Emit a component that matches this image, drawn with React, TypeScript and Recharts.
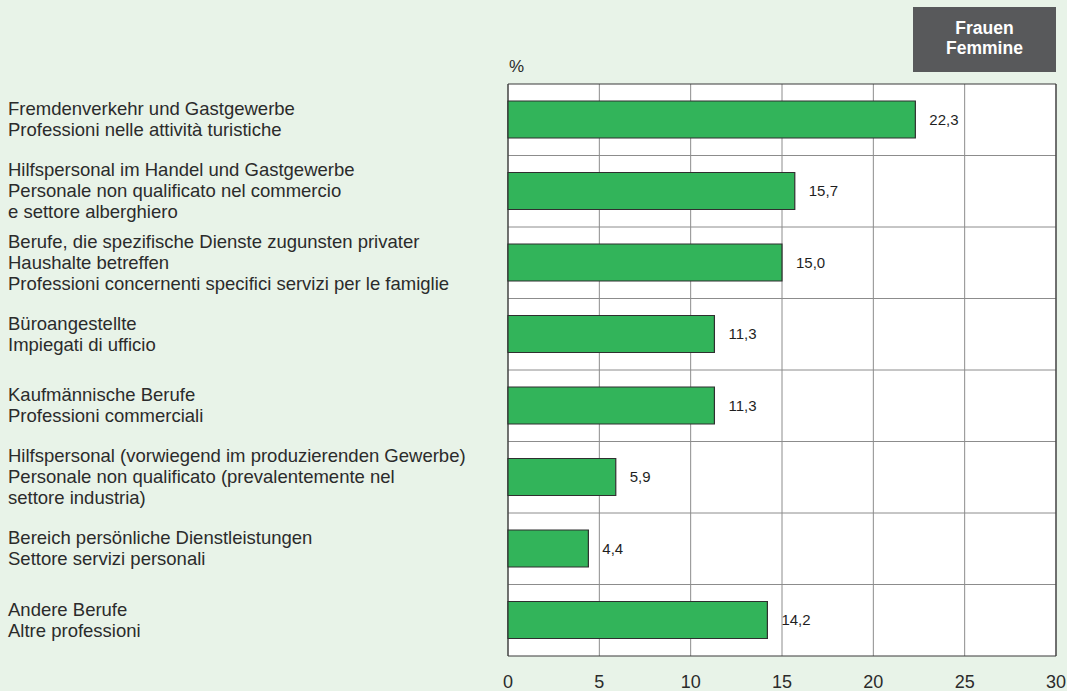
import React from 'react';
import { BarChart, Bar, XAxis, YAxis, CartesianGrid, LabelList } from 'recharts';

const categories: string[] = [
  'Fremdenverkehr und Gastgewerbe\nProfessioni nelle attività turistiche',
  'Hilfspersonal im Handel und Gastgewerbe\nPersonale non qualificato nel commercio\ne settore alberghiero',
  'Berufe, die spezifische Dienste zugunsten privater\nHaushalte betreffen\nProfessioni concernenti specifici servizi per le famiglie',
  'Büroangestellte\nImpiegati di ufficio',
  'Kaufmännische Berufe\nProfessioni commerciali',
  'Hilfspersonal (vorwiegend im produzierenden Gewerbe)\nPersonale non qualificato (prevalentemente nel\nsettore industria)',
  'Bereich persönliche Dienstleistungen\nSettore servizi personali',
  'Andere Berufe\nAltre professioni',
];

const values: number[] = [22.3, 15.7, 15.0, 11.3, 11.3, 5.9, 4.4, 14.2];

const xTicks: number[] = [0, 5, 10, 15, 20, 25, 30];

const unitLabel = '%';
const legendLines: string[] = ['Frauen', 'Femmine'];

const data = categories.map((c, i) => ({ name: c, value: values[i] }));

const FONT = '"Liberation Sans", Arial, Helvetica, sans-serif';
const BG = '#e8f3e8';

const CategoryTick = (props: any) => {
  const { y, payload } = props;
  const lines: string[] = String(payload.value).split('\n');
  const lh = 21;
  const first = y - ((lines.length - 1) / 2) * lh + 6;
  return (
    <text x={8} y={first} textAnchor="start" fill="#2b2b2b" fontSize={18.5} fontFamily={FONT}>
      {lines.map((l, i) => (
        <tspan key={i} x={8} y={first + i * lh}>
          {l}
        </tspan>
      ))}
    </text>
  );
};

const bandGen = ({ offset }: any) => {
  const n = categories.length;
  const out: number[] = [];
  for (let i = 1; i < n; i++) out.push(offset.top + (offset.height * i) / n);
  return out;
};

const borderH = ({ offset }: any) => [offset.top, offset.top + offset.height];
const borderV = ({ offset }: any) => [offset.left, offset.left + offset.width];

const fmt = (v: any) => Number(v).toFixed(1).replace('.', ',');

export default function App() {
  return (
    <div style={{ position: 'absolute', left: 0, top: 0, width: 1067, height: 691, background: BG, fontFamily: FONT }}>
      <BarChart
        width={1067}
        height={691}
        data={data}
        layout="vertical"
        margin={{ top: 84, right: 11, bottom: 5, left: 0 }}
        barSize={37}
      >
        <CartesianGrid
          fill="#ffffff"
          stroke="#8c8c8c"
          strokeWidth={1}
          horizontalCoordinatesGenerator={bandGen}
        />
        <CartesianGrid
          fill="none"
          stroke="#3a3a3a"
          strokeWidth={1.2}
          horizontalCoordinatesGenerator={borderH}
          verticalCoordinatesGenerator={borderV}
        />
        <XAxis
          type="number"
          domain={[0, 30]}
          ticks={xTicks}
          interval={0}
          height={30}
          axisLine={false}
          tickLine={false}
          tickSize={8}
          tickMargin={11}
          tick={{ fontSize: 18, fill: '#2b2b2b', fontFamily: FONT }}
        />
        <YAxis
          type="category"
          dataKey="name"
          width={508}
          axisLine={false}
          tickLine={false}
          interval={0}
          tick={<CategoryTick />}
        />
        <Bar dataKey="value" fill="#32b45a" stroke="#2f2f2f" strokeWidth={1.2} isAnimationActive={false}>
          <LabelList
            dataKey="value"
            position="right"
            offset={14}
            formatter={fmt}
            style={{ fontSize: 15, fill: '#1f1f1f', fontFamily: FONT }}
          />
        </Bar>
      </BarChart>
      <svg
        width={1067}
        height={691}
        style={{ position: 'absolute', left: 0, top: 0, pointerEvents: 'none' }}
      >
        <text x={509} y={72} fontSize={17} fill="#2b2b2b" fontFamily={FONT}>
          {unitLabel}
        </text>
        <rect x={913} y={7} width={143} height={65} fill="#58595b" />
        {legendLines.map((l, i) => (
          <text
            key={i}
            x={984.5}
            y={34 + i * 20}
            textAnchor="middle"
            fontSize={17.5}
            fontWeight="bold"
            fill="#ffffff"
            fontFamily={FONT}
          >
            {l}
          </text>
        ))}
      </svg>
    </div>
  );
}
